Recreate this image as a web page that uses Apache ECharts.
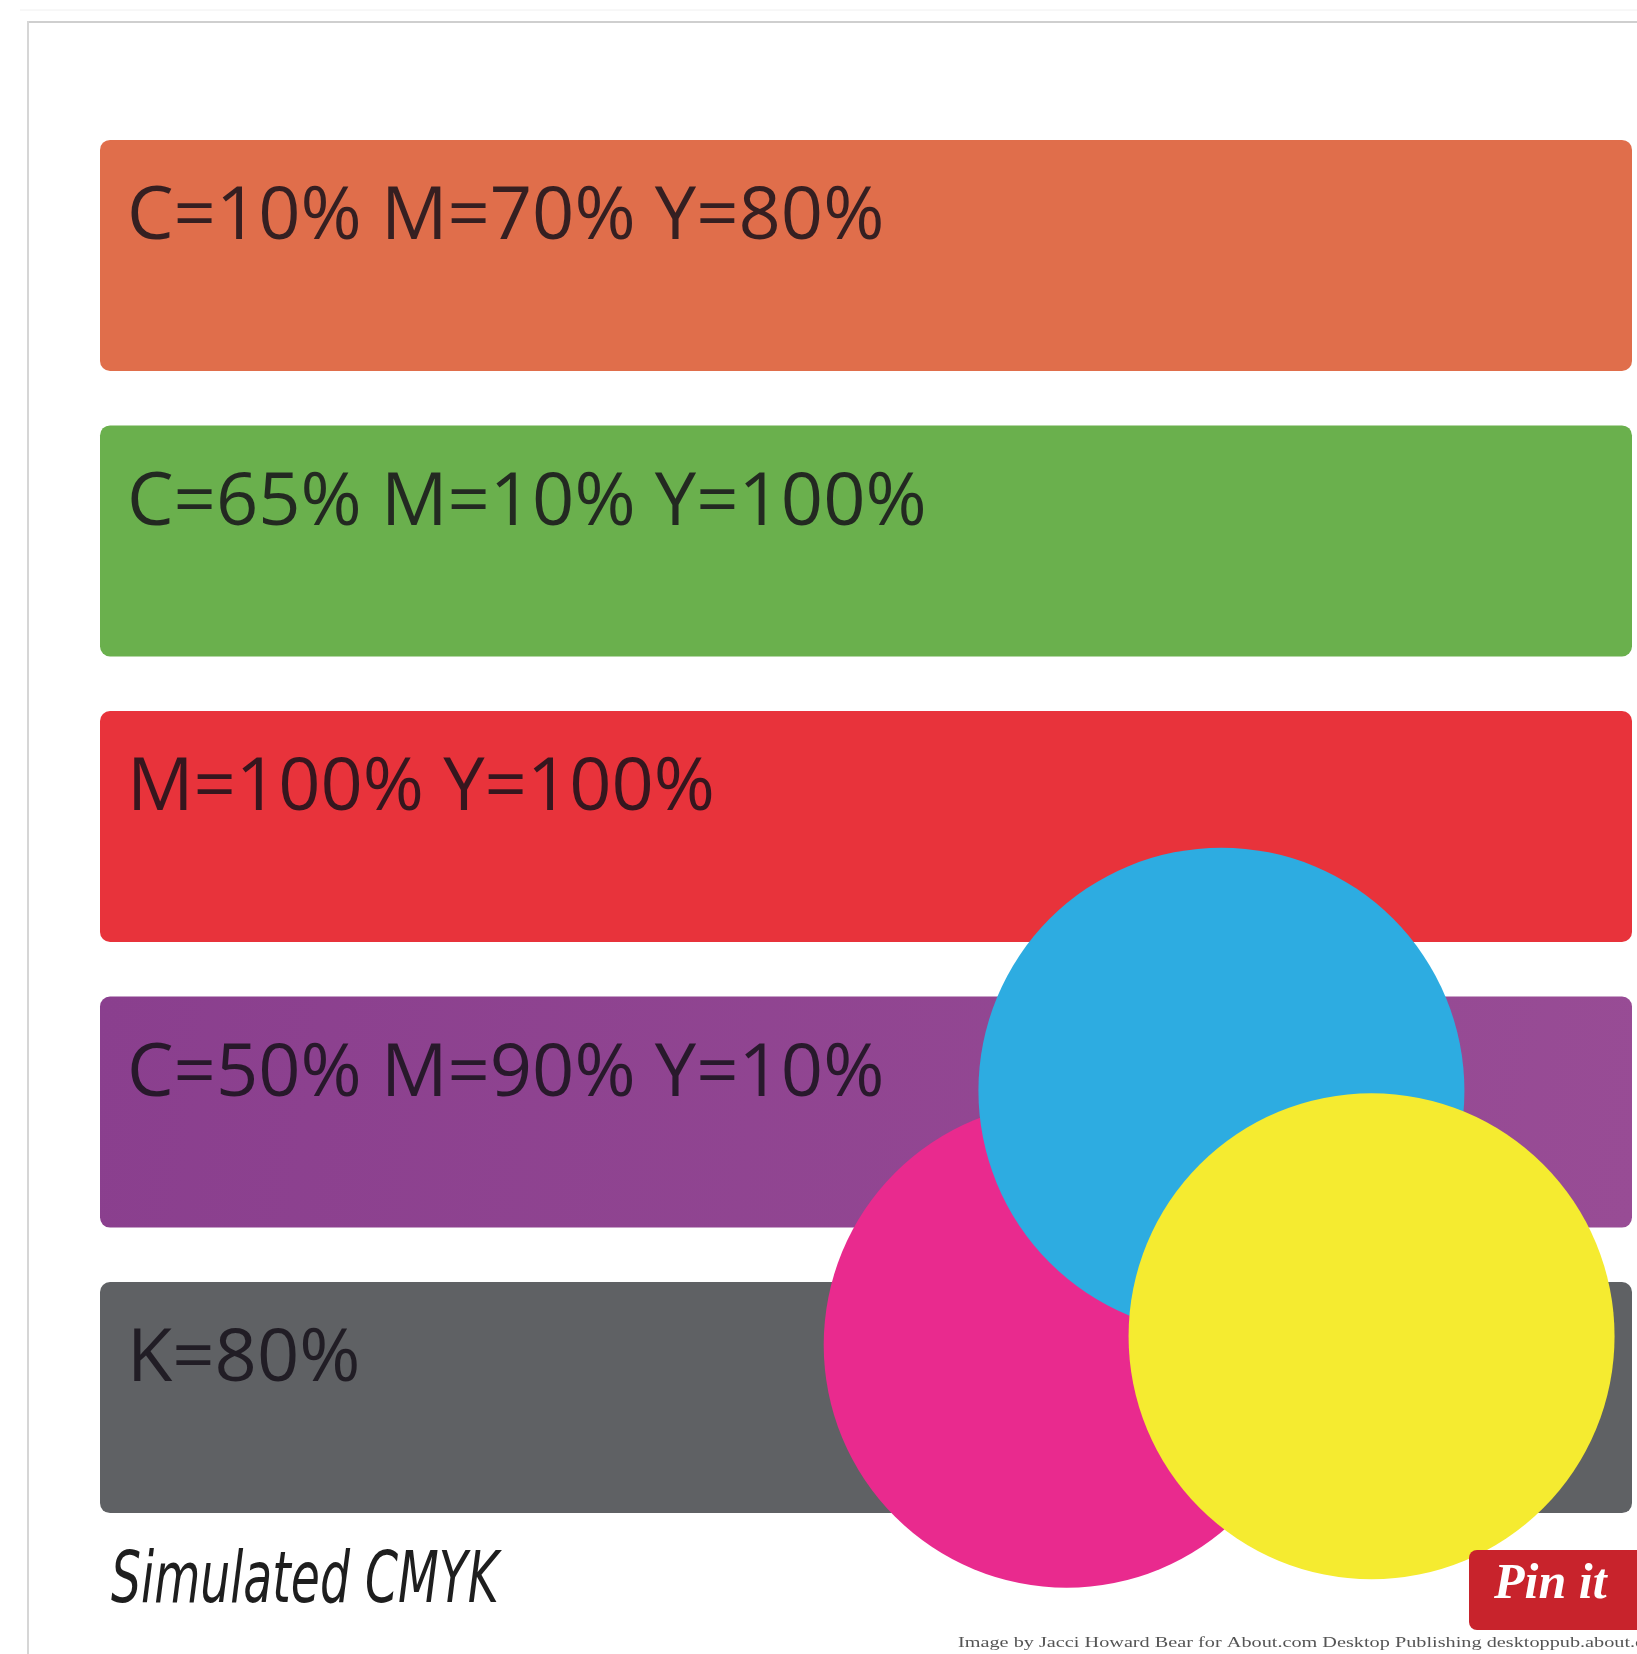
<!DOCTYPE html>
<html>
<head>
<meta charset="utf-8">
<title>Simulated CMYK</title>
<script src="https://cdn.jsdelivr.net/npm/echarts@6/dist/echarts.min.js"></script>
<style>
html,body{margin:0;padding:0;background:#fff;}
#chart{width:1637px;height:1654px;}
</style>
</head>
<body>
<div id="chart"></div>
<script>
// ---- data ----
const swatchLabels = ['C=10% M=70% Y=80%', 'C=65% M=10% Y=100%', 'M=100% Y=100%', 'C=50% M=90% Y=10%', 'K=80%'];
const swatchValues = [100, 100, 100, 100, 100];
const swatchColors = ['#E06E4B', '#6AB04D', '#E8333B', '#8F4494', '#5F6164'];
const circleNames  = ['Magenta', 'Cyan', 'Yellow'];
const circleX      = [63.1, 73.2, 83.0];
const circleY      = [86.3, 68.5, 85.7];
const circleColors = ['#E92A8E', '#2DACE1', '#F5EB30'];
const titleText = 'Simulated CMYK';
const creditText = 'Image by Jacci Howard Bear for About.com Desktop Publishing desktoppub.about.com';

const chart = echarts.init(document.getElementById('chart'), null, {renderer: 'canvas'});

const barData = swatchValues.map((v, i) => ({
  value: v,
  name: swatchLabels[i],
  itemStyle: {
    color: i === 3 ? new echarts.graphic.LinearGradient(0, 0, 1, 1, [
      {offset: 0, color: '#8A3F8E'}, {offset: 1, color: '#984C95'}]) : swatchColors[i]
  }
}));

const circleData = circleNames.map((n, i) => ({
  name: n,
  value: [circleX[i], circleY[i]],
  itemStyle: {color: circleColors[i], opacity: 1}
}));

chart.setOption({
  animation: false,
  backgroundColor: '#ffffff',
  grid: {left: 100, right: 5, top: 112.6, bottom: 113.6, containLabel: false},
  xAxis: [
    {type: 'value', min: 0, max: 100, show: false},
    {type: 'value', min: 0, max: 100, show: false}
  ],
  yAxis: [
    {type: 'category', data: swatchLabels, inverse: true, show: false},
    {type: 'value', min: 0, max: 100, inverse: true, show: false}
  ],
  series: [
    {
      type: 'bar',
      data: barData,
      barWidth: 231,
      itemStyle: {borderRadius: 10},
      label: {
        show: true,
        position: [27, 41],
        formatter: '{b}',
        fontFamily: 'Open Sans',
        fontSize: 74,
        lineHeight: 74,
        color: 'rgba(22,18,26,0.85)'
      },
      silent: true,
      z: 2
    },
    {
      type: 'scatter',
      xAxisIndex: 1,
      yAxisIndex: 1,
      data: circleData,
      symbol: 'circle',
      symbolSize: 486,
      itemStyle: {opacity: 1},
      silent: true,
      z: 3
    }
  ],
  graphic: [
    {type: 'line', shape: {x1: 20, y1: 10, x2: 1637, y2: 10}, style: {stroke: '#f0f0f0', lineWidth: 1}, z: 1},
    {type: 'line', shape: {x1: 27, y1: 22, x2: 1637, y2: 22}, style: {stroke: '#cfcfcf', lineWidth: 2}, z: 1},
    {type: 'line', shape: {x1: 28, y1: 21, x2: 28, y2: 1654}, style: {stroke: '#d6d6d6', lineWidth: 2}, z: 1},
    {
      type: 'text', left: 111, top: 1547, z: 10,
      scaleX: 0.73,
      style: {text: titleText, font: 'italic 72px "Liberation Sans Narrow", "DejaVu Sans Condensed", sans-serif', fill: '#1e1e1e'}
    },
    {
      type: 'rect', shape: {x: 1469, y: 1550, width: 180, height: 80, r: 8},
      style: {fill: '#C8232C'}, z: 10
    },
    {
      type: 'text', left: 1494, top: 1560, z: 11,
      style: {text: 'Pin it', font: 'italic bold 50px "Liberation Serif", serif', fill: '#ffffff'}
    },
    {
      type: 'text', left: 958, top: 1636, z: 10,
      scaleX: 1.35,
      style: {text: creditText, font: '15px "Liberation Serif", serif', fill: '#555555'}
    }
  ]
});
</script>
</body>
</html>
